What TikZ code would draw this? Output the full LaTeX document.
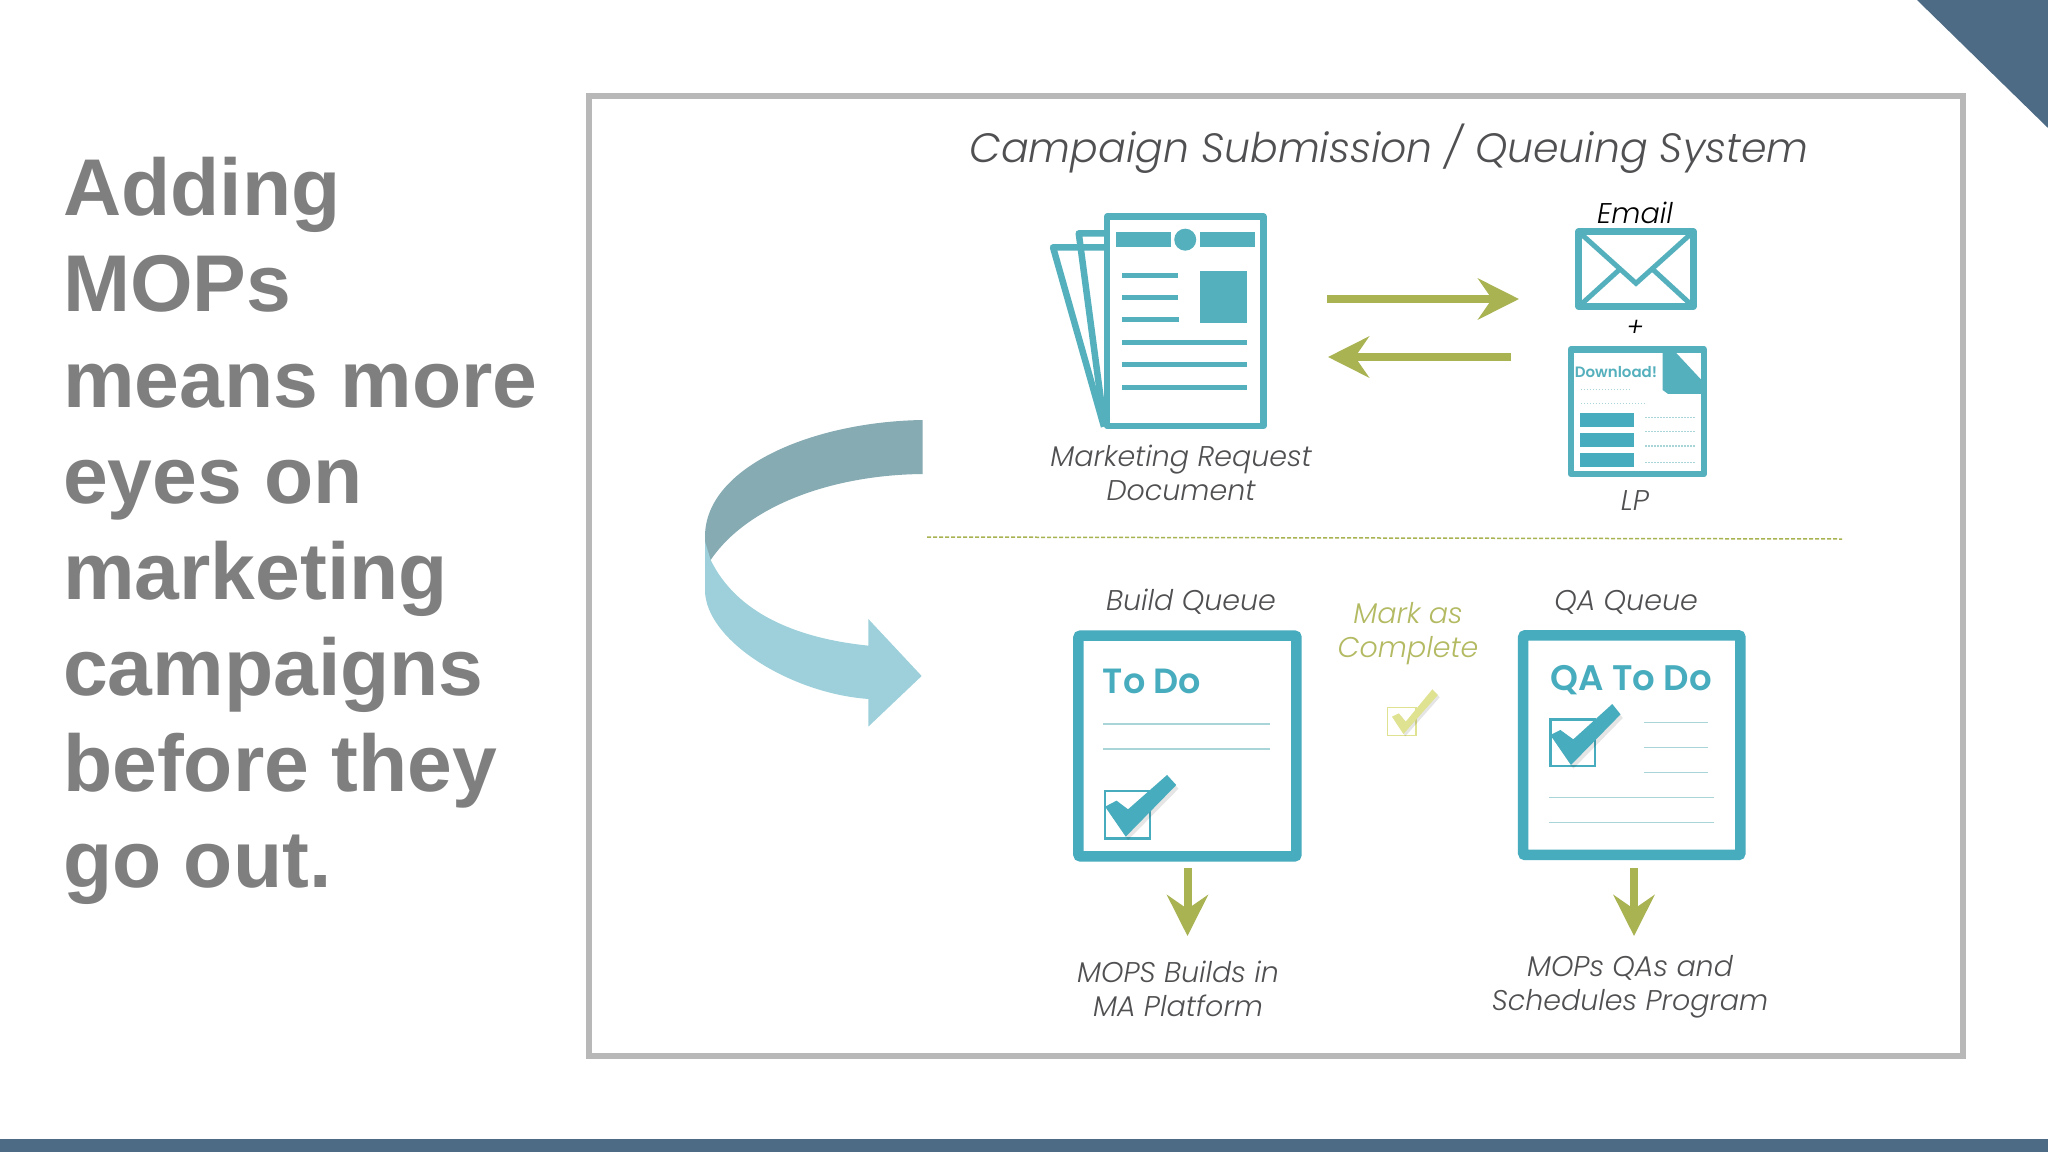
\documentclass[tikz,border=0pt]{standalone}
\usepackage{fontspec}
\usetikzlibrary{arrows.meta}
\setmainfont{Liberation Sans}
\newfontfamily\gothamit{Poppins Light Italic}
\newfontfamily\gothambold{Poppins SemiBold}
\definecolor{bluebar}{HTML}{4D6B85}
\definecolor{framegray}{HTML}{B8B8B8}
\definecolor{headgray}{HTML}{7F7F7F}
\definecolor{tealtop}{HTML}{55B0BD}
\definecolor{tealbox}{HTML}{47ACBD}
\definecolor{paleteal}{HTML}{A9D5D9}
\definecolor{olive}{HTML}{A9B352}
\definecolor{markolive}{HTML}{B3BA62}
\definecolor{capgray}{HTML}{505052}
\definecolor{darkswoosh}{HTML}{86ABB3}
\definecolor{lightswoosh}{HTML}{9DD0DA}
\definecolor{palecheck}{HTML}{DFE290}
\tikzset{
  x=1pt,y=-1pt,
  zoomA/.style={shift={(1020,190)},xscale=.459,yscale=.3333},
  zoomB/.style={shift={(1050,620)},xscale=.459,yscale=.3333},
  zoomC/.style={shift={(680,400)},scale=.3333},
  docline/.style={draw=tealtop,line width=5pt},
  docfill/.style={fill=tealtop},
  pagebox/.style={draw=tealtop,line width=6.5pt,line join=round,fill=white},
  queuebox/.style={draw=tealbox,line width=10.5pt,rounded corners=2pt,fill=white},
  rulethin/.style={draw=paleteal,line width=1.5pt},
  dotline/.style={draw=paleteal,line width=1.2pt,dash pattern=on 1.5pt off 1.5pt},
  bigarrow/.style={draw=olive,line width=8pt,-{Stealth[length=41pt,width=41pt,inset=14pt]}},
  captext/.style={text=capgray,align=center,inner sep=0pt,font=\fontsize{28.5}{34}\selectfont\gothamit},
  checkbox/.style={draw=tealbox,line width=2.5pt},
  checkmark/.style={fill=tealbox},
  checkshadow/.style={fill=black,opacity=.1},
}
\begin{document}
\begin{tikzpicture}
\useasboundingbox (0,0) rectangle (2048,1152);
\fill[white] (0,0) rectangle (2048,1152);
% slide furniture
\fill[bluebar] (0,1139) rectangle (2048,1152);
\fill[bluebar] (1917,0) -- (2048,0) -- (2048,128) -- cycle;
\draw[framegray,line width=6pt,fill=white] (589,96) rectangle (1963,1056);
\node[anchor=north west,align=left,inner sep=0pt,text=headgray,
  font=\fontsize{80.5}{96}\selectfont\bfseries] (headline) at (63,157)
  {Adding\\MOPs\\means more\\eyes on\\marketing\\campaigns\\before they\\go out.};
% title
\node[text=capgray,inner sep=0pt,font=\fontsize{41}{48}\selectfont\gothamit] (title) at (1389,149)
  {Campaign Submission / Queuing System};
% document icon
\begin{scope}[zoomA]
  \draw[pagebox,fill=none] (183,172) -- (72,172) -- (183,710);
  \draw[pagebox,fill=none] (183,130) -- (128,130) -- (183,700);
  \draw[pagebox] (190,80) rectangle (530,708);
  \fill[docfill] (210,127) rectangle (328,172);
  \fill[docfill] (393,127) rectangle (513,172);
  \fill[docfill] (360,149) ellipse [x radius=24,y radius=33];
  \draw[docline] (222,258) -- (345,258);
  \draw[docline] (222,323) -- (345,323);
  \draw[docline] (222,390) -- (347,390);
  \fill[docfill] (393,244) rectangle (495,398);
  \draw[docline] (222,458) -- (495,458);
  \draw[docline] (222,525) -- (495,525);
  \draw[docline] (222,592) -- (495,592);
  % envelope
  \draw[pagebox] (1217,125) rectangle (1467,350);
  \draw[tealtop,line width=5pt] (1217,125) -- (1342,280) -- (1467,125);
  \draw[tealtop,line width=5pt] (1217,350) -- (1305,240);
  \draw[tealtop,line width=5pt] (1467,350) -- (1380,240);
  % landing page
  \draw[pagebox] (1200,478) rectangle (1490,852);
  \fill[docfill] (1400,482) -- (1425,482) -- (1490,578) -- (1490,612) -- (1412,612) -- (1400,600) -- cycle;
  \fill[tealbox] (1220,670) rectangle (1338,710);
  \fill[tealbox] (1220,730) rectangle (1338,770);
  \fill[tealbox] (1220,790) rectangle (1338,830);
  \draw[dotline] (1222,598) -- (1328,598);
  \draw[dotline] (1222,640) -- (1362,640);
  \draw[dotline] (1362,683) -- (1470,683);
  \draw[dotline] (1362,725) -- (1470,725);
  \draw[dotline] (1362,768) -- (1470,768);
  \draw[dotline] (1362,817) -- (1470,817);
\end{scope}
\node[text=tealtop,inner sep=0pt,font=\fontsize{15}{18}\selectfont\gothambold] (download) at (1616,372) {Download!};
\node[captext,text=black] (email) at (1635,213) {Email};
\node[text=black,inner sep=0pt,font=\fontsize{26}{28}\selectfont\gothamit] (plus) at (1635,328) {+};
\node[captext] (lp) at (1635,501) {LP};
\node[captext] (mrd) at (1181,473) {Marketing Request\\Document};
% horizontal arrows
\coordinate (fromdoc) at (1327,299);
\coordinate (toemail) at (1519,299);
\coordinate (fromlp) at (1511,357);
\coordinate (todoc) at (1328,357);
\draw[bigarrow] (fromdoc) -- (toemail);
\draw[bigarrow] (fromlp) -- (todoc);
% divider
\coordinate (divl) at (927,537);
\coordinate (divr) at (1842,539);
\draw[olive,line width=1.5pt,dash pattern=on 4pt off 2pt] (divl) -- (divr);
% swoosh
\begin{scope}[zoomC]
  \fill[darkswoosh] (728,60) .. controls (400,65) and (75,200) .. (75,410) -- (75,470) -- (92,480)
     .. controls (200,320) and (450,225) .. (728,222) -- cycle;
  \fill[lightswoosh] (75,425) -- (92,480) .. controls (170,640) and (350,715) .. (565,737)
     -- (565,657) -- (725,828) -- (565,980) -- (565,897)
     .. controls (330,880) and (75,720) .. (75,570) -- cycle;
\end{scope}
% queue boxes
\begin{scope}[zoomB]
  \draw[queuebox] (62,47) rectangle (537,709);
  \draw[queuebox] (1031,46) rectangle (1504,705);
  \draw[rulethin] (115,312) -- (480,312);
  \draw[rulethin] (115,387) -- (480,387);
  \draw[rulethin] (1295,308) -- (1433,308);
  \draw[rulethin] (1295,383) -- (1433,383);
  \draw[rulethin] (1295,458) -- (1433,458);
  \draw[rulethin] (1087,533) -- (1447,533);
  \draw[rulethin] (1087,607) -- (1447,607);
  % check 1
  \draw[checkbox] (120,513) rectangle (218,655);
  \fill[checkshadow] (260,476) -- (280,506) -- (170,660) -- (126,570) -- (150,553) -- (175,580) -- cycle;
  \fill[checkmark] (255,465) -- (275,495) -- (165,650) -- (120,560) -- (145,542) -- (170,568) -- cycle;
  % check 2
  \draw[checkbox] (1090,298) rectangle (1187,438);
  \fill[checkshadow] (1230,263) -- (1248,294) -- (1140,446) -- (1096,356) -- (1117,341) -- (1145,369) -- cycle;
  \fill[checkmark] (1225,252) -- (1243,283) -- (1135,435) -- (1090,345) -- (1112,330) -- (1140,358) -- cycle;
  % pale check
  \draw[palecheck,line width=1.5pt] (735,262) rectangle (797,347);
  \fill[black,opacity=.1] (838,215) -- (849,232) -- (774,349) -- (749,297) -- (764,287) -- (779,312) -- cycle;
  \fill[palecheck] (833,208) -- (845,225) -- (770,342) -- (745,290) -- (760,280) -- (775,305) -- cycle;
\end{scope}
\node[text=tealbox,inner sep=0pt,font=\fontsize{35}{40}\selectfont\gothambold] (todo) at (1152,681) {To Do};
\node[text=tealbox,inner sep=0pt,font=\fontsize{35.5}{40}\selectfont\gothambold] (qatodo) at (1631,680) {QA To Do};
\node[captext] (buildq) at (1191,602) {Build Queue};
\node[captext] (qaq) at (1626,602) {QA Queue};
\node[captext,text=markolive] (mark) at (1408,634) {Mark as\\Complete};
% down arrows
\coordinate (buildtop) at (1187.5,868);
\coordinate (buildtip) at (1187.5,936);
\coordinate (qatop) at (1634,868);
\coordinate (qatip) at (1634,936);
\draw[bigarrow] (buildtop) -- (buildtip);
\draw[bigarrow] (qatop) -- (qatip);
\node[captext] (mopsb) at (1178,989) {MOPS Builds in\\MA Platform};
\node[captext] (mopsq) at (1630,987) {MOPs QAs and\\Schedules Program};
\end{tikzpicture}
\end{document}
